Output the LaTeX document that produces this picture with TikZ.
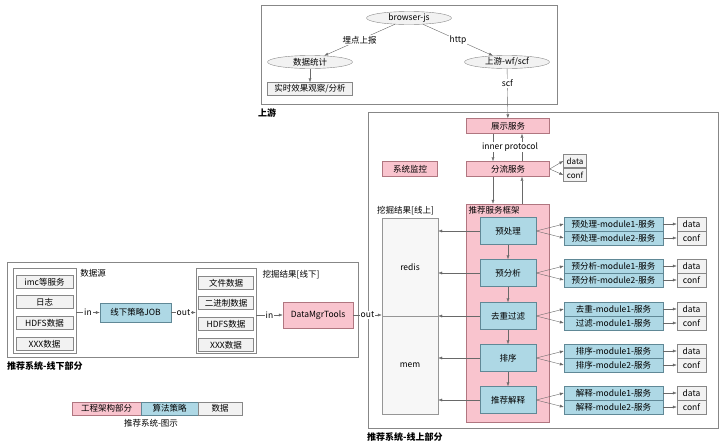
\documentclass[tikz,border=0pt]{standalone}
\usepackage{fontspec}
\setmainfont{Noto Sans CJK SC}
\usetikzlibrary{shapes.geometric,arrows.meta,positioning}

\definecolor{gcfill}{RGB}{249,196,206}
\definecolor{gcline}{RGB}{176,118,128}
\definecolor{sffill}{RGB}{174,216,229}
\definecolor{sfline}{RGB}{96,136,150}
\definecolor{sjfill}{RGB}{242,242,242}
\definecolor{xian}{RGB}{105,105,105}

\tikzset{
  gongcheng/.style={draw=gcline, fill=gcfill, inner sep=0pt, minimum height=15pt},
  suanfa/.style={draw=sfline, fill=sffill, inner sep=0pt},
  shuju/.style={draw=xian!80, fill=sjfill, inner sep=0pt, minimum height=13pt},
  tuoyuan/.style={ellipse, draw=xian!80, fill=sjfill, inner sep=0pt,
    minimum width=85pt, minimum height=13pt},
  kuang/.style={draw=xian!80, line width=0.6pt},
  lie/.style={draw=xian!70, fill=sjfill!60, inner sep=0pt, minimum width=56pt, minimum height=98pt},
  jiantou/.style={draw=xian, -{Latex[length=4pt,width=3pt]}},
  biaoqian/.style={fill=white, inner sep=1pt},
  biaoti/.style={font=\bfseries\fontsize{9}{10}\selectfont, anchor=west, inner sep=0pt}
}

\begin{document}
\begin{tikzpicture}[x=1pt, y=-1pt, font=\fontsize{8.5}{10}\selectfont]
  \useasboundingbox (0,0) rectangle (723,445);

  % upstream
  \draw[kuang] (261,5) rectangle (557,104);
  \node[biaoti] at (258,113) {上游};
  \node[tuoyuan] (browser) at (409,18) {browser-js};
  \node[tuoyuan] (tongji) at (310,62) {数据统计};
  \node[shuju, minimum width=85pt] (shishi) at (310,89) {实时效果观察/分析};
  \node[tuoyuan] (upwf) at (507,62) {上游-wf/scf};

  \draw[jiantou] (browser) -- node[biaoqian] {埋点上报} (tongji);
  \draw[jiantou] (browser) -- node[biaoqian] {http} (upwf);
  \draw[jiantou] (tongji) -- (shishi);

  % online part
  \draw[kuang] (368,112) rectangle (718,428);
  \node[biaoti] at (367,437) {推荐系统-线上部分};

  \node[gongcheng, minimum width=83pt] (zhanshi) at (508,126) {展示服务};
  \node[gongcheng, minimum width=83pt] (fenliu) at (508,169) {分流服务};
  \node[gongcheng, minimum width=55pt] (jiankong) at (410,169) {系统监控};
  \node[shuju, minimum width=23pt, font=\fontsize{8}{9}\selectfont] (fldata) at (575,161) {data};
  \node[shuju, minimum width=23pt, font=\fontsize{8}{9}\selectfont] (flconf) at (575,175) {conf};
  \node[gongcheng, minimum width=83pt, minimum height=218pt] (kuangjia) at (508,313) {};
  \node[anchor=north west, inner sep=2pt] at (kuangjia.north west) {推荐服务框架};

  \draw[jiantou] (upwf) -- node[biaoqian, pos=0.3] {scf} (zhanshi);
  \draw[jiantou] ([xshift=-15pt]zhanshi.south) -- ([xshift=-15pt]fenliu.north);
  \draw[jiantou] ([xshift=14pt]fenliu.north) -- ([xshift=14pt]zhanshi.south);
  \node[biaoqian] at (510,147) {inner protocol};
  \draw[jiantou] ([xshift=-15pt]fenliu.south) -- ([xshift=-15pt]kuangjia.north);
  \draw[jiantou] ([xshift=14pt]kuangjia.north) -- ([xshift=14pt]fenliu.south);
  \draw[jiantou] (fenliu.east) -- (fldata.west);
  \draw[jiantou] (fenliu.east) -- (flconf.west);

  \node[lie] (redis) at (410,267) {redis};
  \node[lie] (mem) at (410,365) {mem};
  \node[anchor=south west, inner sep=1pt] at (376,216) {挖掘结果[线上]};

  \foreach \i/\y/\t in {1/231/预处理, 2/273/预分析, 3/316/去重过滤, 4/358/排序, 5/400/推荐解释}
    \node[suanfa, minimum width=56pt, minimum height=27pt] (p\i) at (508,\y) {\t};

  \foreach \i/\y/\a/\b in {1/231/预处理-module1-服务/预处理-module2-服务,
                           2/273/预分析-module1-服务/预分析-module2-服务,
                           3/316/去重-module1-服务/过滤-module1-服务,
                           4/358/排序-module1-服务/排序-module2-服务,
                           5/400/解释-module1-服务/解释-module2-服务} {
    \node[suanfa, minimum width=99pt, minimum height=13.5pt] (mod\i-1) at (613.5,\y-7) {\a};
    \node[suanfa, minimum width=99pt, minimum height=13.5pt] (mod\i-2) at (613.5,\y+7) {\b};
    \node[shuju, minimum width=29pt, minimum height=13.5pt] (dat\i) at (691.5,\y-7) {data};
    \node[shuju, minimum width=29pt, minimum height=13.5pt] (cnf\i) at (691.5,\y+7) {conf};
    \draw[jiantou] (p\i.east) -- (mod\i-1.west);
    \draw[jiantou] (p\i.east) -- (mod\i-2.west);
    \draw[jiantou] (mod\i-1.east) -- (dat\i.west);
    \draw[jiantou] (mod\i-2.east) -- (cnf\i.west);
    \draw[jiantou] (p\i.west) -- (p\i.west -| redis.east);
  }
  \foreach \i/\j in {1/2, 2/3, 3/4, 4/5}
    \draw[jiantou] (p\i.south) -- (p\j.north);

  % offline part
  \draw[kuang] (7,262) rectangle (358,357);
  \node[biaoti] at (7,366) {推荐系统-线下部分};

  \node[draw=xian!80, fill=white, minimum width=63pt, minimum height=85pt] (src) at (44.5,310.5) {};
  \foreach \i/\y/\t in {1/282/imc等服务, 2/302/日志, 3/323/HDFS数据, 4/344/XXX数据}
    \node[shuju, minimum width=57pt] (s\i) at (44.5,\y) {\t};
  \node at (93,273) {数据源};
  \node[suanfa, minimum width=71pt, minimum height=19pt] (job) at (135.5,312.5) {线下策略JOB};

  \node[draw=xian!80, fill=white, minimum width=60pt, minimum height=85pt] (mine) at (226,310.5) {};
  \foreach \i/\y/\t in {1/283/文件数据, 2/303/二进制数据, 3/324/HDFS数据, 4/345/XXX数据}
    \node[shuju, minimum width=55pt] (k\i) at (226,\y) {\t};
  \node at (291,275) {挖掘结果[线下]};
  \node[gongcheng, minimum width=70pt, minimum height=26pt] (dmt) at (318,315) {DataMgrTools};

  \draw[jiantou] (src.east |- job.west) -- node[biaoqian] {in} (job.west);
  \draw[jiantou] (job.east) -- node[biaoqian] {out} (job.east -| mine.west);
  \draw[jiantou] (mine.east |- dmt.west) -- node[biaoqian] {in} (dmt.west);
  \draw[jiantou] (dmt.east) -- node[biaoqian] {out} (dmt.east -| redis.west);

  % legend
  \node[gongcheng, minimum width=69pt, minimum height=13pt] (lg1) at (106.5,408.5) {工程架构部分};
  \node[suanfa, minimum width=57pt, minimum height=13pt] (lg2) at (169.5,408.5) {算法策略};
  \node[shuju, minimum width=44pt] (lg3) at (220,408.5) {数据};
  \node (lgcap) at (151,423) {推荐系统-图示};
\end{tikzpicture}
\end{document}
